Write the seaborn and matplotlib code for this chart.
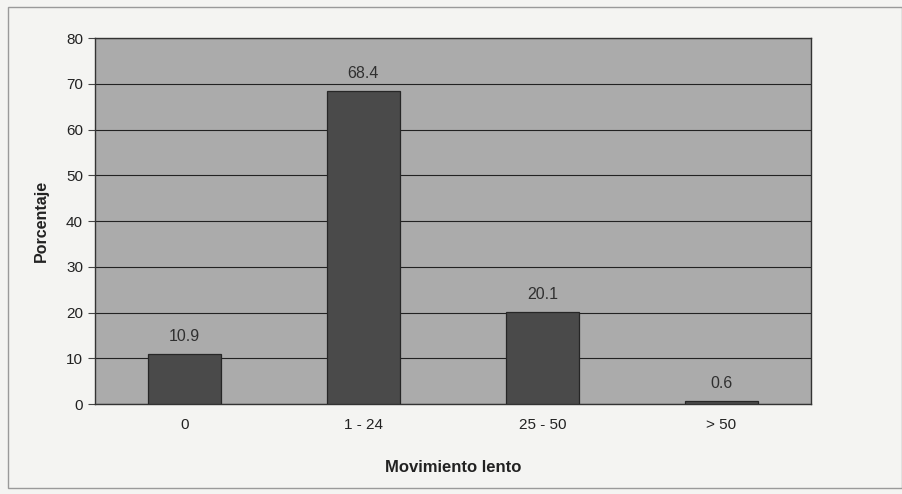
import matplotlib
matplotlib.use("Agg")
import matplotlib.pyplot as plt
import seaborn as sns
import pandas as pd
from matplotlib.patches import Rectangle

categories = ["0", "1 - 24", "25 - 50", "> 50"]
percentages = [10.9, 68.4, 20.1, 0.6]
y_ticks = [0, 10, 20, 30, 40, 50, 60, 70, 80]

df = pd.DataFrame({"Movimiento lento": categories, "Porcentaje": percentages})

sns.set_theme(style="white")
plt.rcParams["font.family"] = ["Liberation Sans", "DejaVu Sans"]

fig = plt.figure(figsize=(9.03, 4.94), dpi=100, facecolor="#f4f4f2")
ax = fig.add_axes([0.105, 0.182, 0.793, 0.741])
ax.set_facecolor("#ababab")

# outer chart frame
fig.patches.append(Rectangle((0.009, 0.012), 0.99, 0.974, transform=fig.transFigure,
                             fill=False, edgecolor="#9a9a9a", linewidth=1.0))

sns.barplot(data=df, x="Movimiento lento", y="Porcentaje", ax=ax,
            color="#4a4a4a", width=0.41, saturation=1,
            edgecolor="#262626", linewidth=0.9, zorder=3)

for patch, val in zip(ax.patches, percentages):
    ax.text(patch.get_x() + patch.get_width() / 2, val + 2.2, f"{val:.1f}",
            ha="center", va="bottom", fontsize=11.5, color="#303030", zorder=4)

ax.set_ylim(0, 80)
ax.set_xlim(-0.5, 3.5)
ax.set_yticks(y_ticks)
ax.yaxis.grid(True, color="#222222", linewidth=0.8, zorder=1)
ax.set_axisbelow(True)
ax.set_xticks([0, 1, 2, 3])
ax.set_xticks([0.5, 1.5, 2.5], minor=True)
ax.tick_params(axis="x", which="major", length=0, labelsize=11, pad=10, colors="#222222")
ax.tick_params(axis="x", which="minor", length=5, width=0.8, color="#444444", direction="out")
ax.tick_params(axis="y", length=5, width=0.8, labelsize=11, colors="#222222", left=True)
ax.tick_params(axis="y", color="#444444")

for side in ["left", "right", "top", "bottom"]:
    ax.spines[side].set_visible(True)
    ax.spines[side].set_color("#333333")
    ax.spines[side].set_linewidth(1.0)

ax.set_xlabel("Movimiento lento", fontsize=12, fontweight="bold", labelpad=20, color="#222222")
ax.set_ylabel("Porcentaje", fontsize=11.5, fontweight="bold", labelpad=12, color="#222222")

fig.savefig("out.png", dpi=100, facecolor=fig.get_facecolor())
